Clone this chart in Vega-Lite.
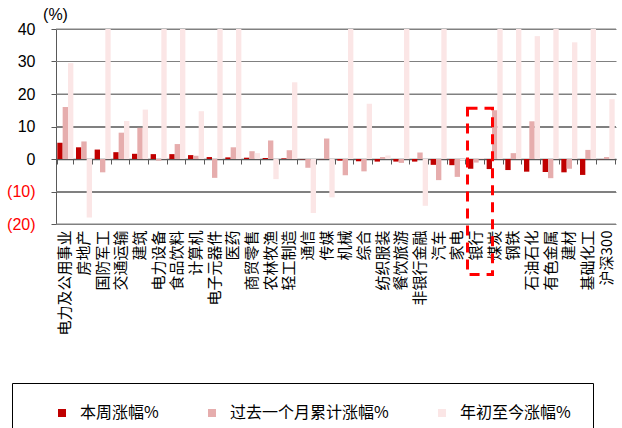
{
  "$schema": "https://vega.github.io/schema/vega-lite/v6.json",
  "autosize": {"type": "none"},
  "width": 560,
  "height": 195,
  "padding": {"left": 56, "top": 29, "right": 6, "bottom": 204},
  "background": "white",
  "config": {
    "view": {"stroke": null},
    "font": "Noto Sans CJK SC",
    "axisY": {
      "titleAngle": 0,
      "titleX": -1,
      "titleY": -15,
      "titleAlign": "center",
      "titleBaseline": "middle",
      "titleFont": "Liberation Sans",
      "titleFontSize": 16,
      "titleFontWeight": "normal",
      "titleColor": "#000000",
      "labelOverlap": false,
      "labelFont": "Liberation Sans",
      "labelFontSize": 16,
      "labelPadding": 16,
      "tickSize": 5,
      "tickColor": "#595959",
      "domainColor": "#595959",
      "grid": true,
      "gridColor": "#808080",
      "gridWidth": 1,
      "gridOpacity": 1
    }
  },
  "datasets": {
    "sectors": [
      {"cat": "电力及公用事业", "本周涨幅%": 5.0, "过去一个月累计涨幅%": 16.0, "年初至今涨幅%": 29.5},
      {"cat": "房地产", "本周涨幅%": 3.6, "过去一个月累计涨幅%": 5.4, "年初至今涨幅%": -18.0},
      {"cat": "国防军工", "本周涨幅%": 2.9, "过去一个月累计涨幅%": -4.1, "年初至今涨幅%": 48},
      {"cat": "交通运输", "本周涨幅%": 2.1, "过去一个月累计涨幅%": 8.1, "年初至今涨幅%": 11.7},
      {"cat": "建筑", "本周涨幅%": 1.6, "过去一个月累计涨幅%": 9.6, "年初至今涨幅%": 15.2},
      {"cat": "电力设备", "本周涨幅%": 1.5, "过去一个月累计涨幅%": -0.5, "年初至今涨幅%": 55},
      {"cat": "食品饮料", "本周涨幅%": 1.5, "过去一个月累计涨幅%": 4.6, "年初至今涨幅%": 45},
      {"cat": "计算机", "本周涨幅%": 1.2, "过去一个月累计涨幅%": 1.0, "年初至今涨幅%": 14.7},
      {"cat": "电子元器件", "本周涨幅%": 0.6, "过去一个月累计涨幅%": -5.8, "年初至今涨幅%": 50},
      {"cat": "医药", "本周涨幅%": 0.5, "过去一个月累计涨幅%": 3.6, "年初至今涨幅%": 42},
      {"cat": "商贸零售", "本周涨幅%": 0.4, "过去一个月累计涨幅%": 2.4, "年初至今涨幅%": 1.8},
      {"cat": "农林牧渔", "本周涨幅%": 0.3, "过去一个月累计涨幅%": 5.7, "年初至今涨幅%": -6.2},
      {"cat": "轻工制造", "本周涨幅%": 0.2, "过去一个月累计涨幅%": 2.7, "年初至今涨幅%": 23.6},
      {"cat": "通信", "本周涨幅%": -0.1, "过去一个月累计涨幅%": -2.7, "年初至今涨幅%": -16.6},
      {"cat": "传媒", "本周涨幅%": -0.05, "过去一个月累计涨幅%": 6.3, "年初至今涨幅%": -11.8},
      {"cat": "机械", "本周涨幅%": -0.5, "过去一个月累计涨幅%": -5.0, "年初至今涨幅%": 45},
      {"cat": "综合", "本周涨幅%": -0.7, "过去一个月累计涨幅%": -3.8, "年初至今涨幅%": 17.0},
      {"cat": "纺织服装", "本周涨幅%": -0.8, "过去一个月累计涨幅%": 0.6, "年初至今涨幅%": 1.1},
      {"cat": "餐饮旅游", "本周涨幅%": -0.8, "过去一个月累计涨幅%": -1.2, "年初至今涨幅%": 52},
      {"cat": "非银行金融", "本周涨幅%": -0.8, "过去一个月累计涨幅%": 2.0, "年初至今涨幅%": -14.4},
      {"cat": "汽车", "本周涨幅%": -1.8, "过去一个月累计涨幅%": -6.5, "年初至今涨幅%": 60},
      {"cat": "家电", "本周涨幅%": -1.9, "过去一个月累计涨幅%": -5.5, "年初至今涨幅%": -0.3},
      {"cat": "银行", "本周涨幅%": -3.0, "过去一个月累计涨幅%": -1.1, "年初至今涨幅%": 0.3},
      {"cat": "煤炭", "本周涨幅%": -3.1, "过去一个月累计涨幅%": 15.0, "年初至今涨幅%": 46},
      {"cat": "钢铁", "本周涨幅%": -3.4, "过去一个月累计涨幅%": 1.8, "年初至今涨幅%": 48},
      {"cat": "石油石化", "本周涨幅%": -3.9, "过去一个月累计涨幅%": 11.6, "年初至今涨幅%": 37.8},
      {"cat": "有色金属", "本周涨幅%": -4.0, "过去一个月累计涨幅%": -5.9, "年初至今涨幅%": 55},
      {"cat": "建材", "本周涨幅%": -4.1, "过去一个月累计涨幅%": -3.0, "年初至今涨幅%": 35.9},
      {"cat": "基础化工", "本周涨幅%": -4.9, "过去一个月累计涨幅%": 2.8, "年初至今涨幅%": 47},
      {"cat": "沪深300", "本周涨幅%": -0.05, "过去一个月累计涨幅%": 0.6, "年初至今涨幅%": 18.4}
    ],
    "highlight": [
      {"cat": "银行", "top": 15.6, "bottom": -35.5}
    ],
    "gridlines": [
      {"v": -20}, {"v": -10}, {"v": 10}, {"v": 20}, {"v": 30}, {"v": 40}
    ]
  },
  "layer": [
    {
      "data": {"name": "gridlines"},
      "mark": {"type": "rule", "color": "#808080", "strokeWidth": 1},
      "encoding": {
        "y": {
          "field": "v",
          "type": "quantitative",
          "axis": {
            "title": "(%)",
            "values": [-20, -10, 0, 10, 20, 30, 40],
            "labelExpr": "datum.value < 0 ? '(' + abs(datum.value) + ')' : datum.label",
            "labelColor": {"condition": {"test": "datum.value < 0", "value": "#FF0000"}, "value": "#000000"}
          }
        }
      }
    },
    {
      "data": {"name": "sectors"},
      "transform": [
        {"fold": ["本周涨幅%", "过去一个月累计涨幅%", "年初至今涨幅%"], "as": ["series", "value"]}
      ],
      "mark": {"type": "bar", "clip": true},
      "encoding": {
        "x": {
          "field": "cat",
          "type": "nominal",
          "scale": {
            "domain": ["电力及公用事业", "房地产", "国防军工", "交通运输", "建筑", "电力设备", "食品饮料", "计算机", "电子元器件", "医药", "商贸零售", "农林牧渔", "轻工制造", "通信", "传媒", "机械", "综合", "纺织服装", "餐饮旅游", "非银行金融", "汽车", "家电", "银行", "煤炭", "钢铁", "石油石化", "有色金属", "建材", "基础化工", "沪深300"],
            "paddingInner": 0.14,
            "paddingOuter": 0.07
          },
          "axis": {
            "title": null,
            "labelAngle": -90,
            "labelFont": "Noto Sans CJK SC",
            "labelFontSize": 15,
            "labelColor": "#000000",
            "domain": false,
            "ticks": false,
            "tickSize": 0,
            "labelPadding": 6,
            "labelLimit": 300,
            "grid": false
          }
        },
        "xOffset": {
          "field": "series",
          "type": "nominal",
          "scale": {"domain": ["本周涨幅%", "过去一个月累计涨幅%", "年初至今涨幅%"], "paddingInner": 0, "paddingOuter": 0}
        },
        "y": {
          "field": "value",
          "type": "quantitative",
          "scale": {"domain": [-20, 40], "nice": false, "zero": false},
          "axis": {
            "title": "(%)",
            "values": [-20, -10, 0, 10, 20, 30, 40],
            "labelExpr": "datum.value < 0 ? '(' + abs(datum.value) + ')' : datum.label",
            "labelColor": {"condition": {"test": "datum.value < 0", "value": "#FF0000"}, "value": "#000000"}
          }
        },
        "color": {
          "field": "series",
          "type": "nominal",
          "scale": {"domain": ["本周涨幅%", "过去一个月累计涨幅%", "年初至今涨幅%"], "range": ["#C00000", "#E6ADAD", "#FBE6E6"]},
          "legend": {
            "orient": "none",
            "legendX": -44,
            "legendY": 354,
            "direction": "horizontal",
            "title": " ",
            "titleOrient": "left",
            "titlePadding": 20,
            "titleFontSize": 8,
            "strokeColor": "#000000",
            "padding": 22,
            "symbolType": "square",
            "symbolSize": 64,
            "symbolStrokeWidth": 0,
            "labelOffset": 10,
            "labelFont": "Noto Sans CJK SC",
            "labelFontSize": 16,
            "labelColor": "#000000",
            "labelExpr": "datum.label == '年初至今涨幅%' ? datum.label + '　　' : datum.label",
            "columnPadding": 45
          }
        }
      }
    },
    {
      "data": {"name": "highlight"},
      "mark": {"type": "bar", "fill": "transparent", "stroke": "#FF0000", "strokeWidth": 3, "strokeDash": [10, 7], "width": 25, "xOffset": 4, "clip": false},
      "encoding": {
        "x": {
          "field": "cat",
          "type": "nominal",
          "axis": {
            "orient": "bottom",
            "offset": -65,
            "labels": false,
            "title": null,
            "domain": true,
            "domainColor": "#595959",
            "domainWidth": 1.5,
            "ticks": true,
            "tickBand": "extent",
            "tickSize": 5,
            "tickColor": "#595959",
            "grid": false
          }
        },
        "y": {
          "field": "top",
          "type": "quantitative",
          "axis": {
            "title": "(%)",
            "values": [-20, -10, 0, 10, 20, 30, 40],
            "labelExpr": "datum.value < 0 ? '(' + abs(datum.value) + ')' : datum.label",
            "labelColor": {"condition": {"test": "datum.value < 0", "value": "#FF0000"}, "value": "#000000"}
          }
        },
        "y2": {"field": "bottom"}
      }
    }
  ],
  "resolve": {"axis": {"x": "independent"}}
}
